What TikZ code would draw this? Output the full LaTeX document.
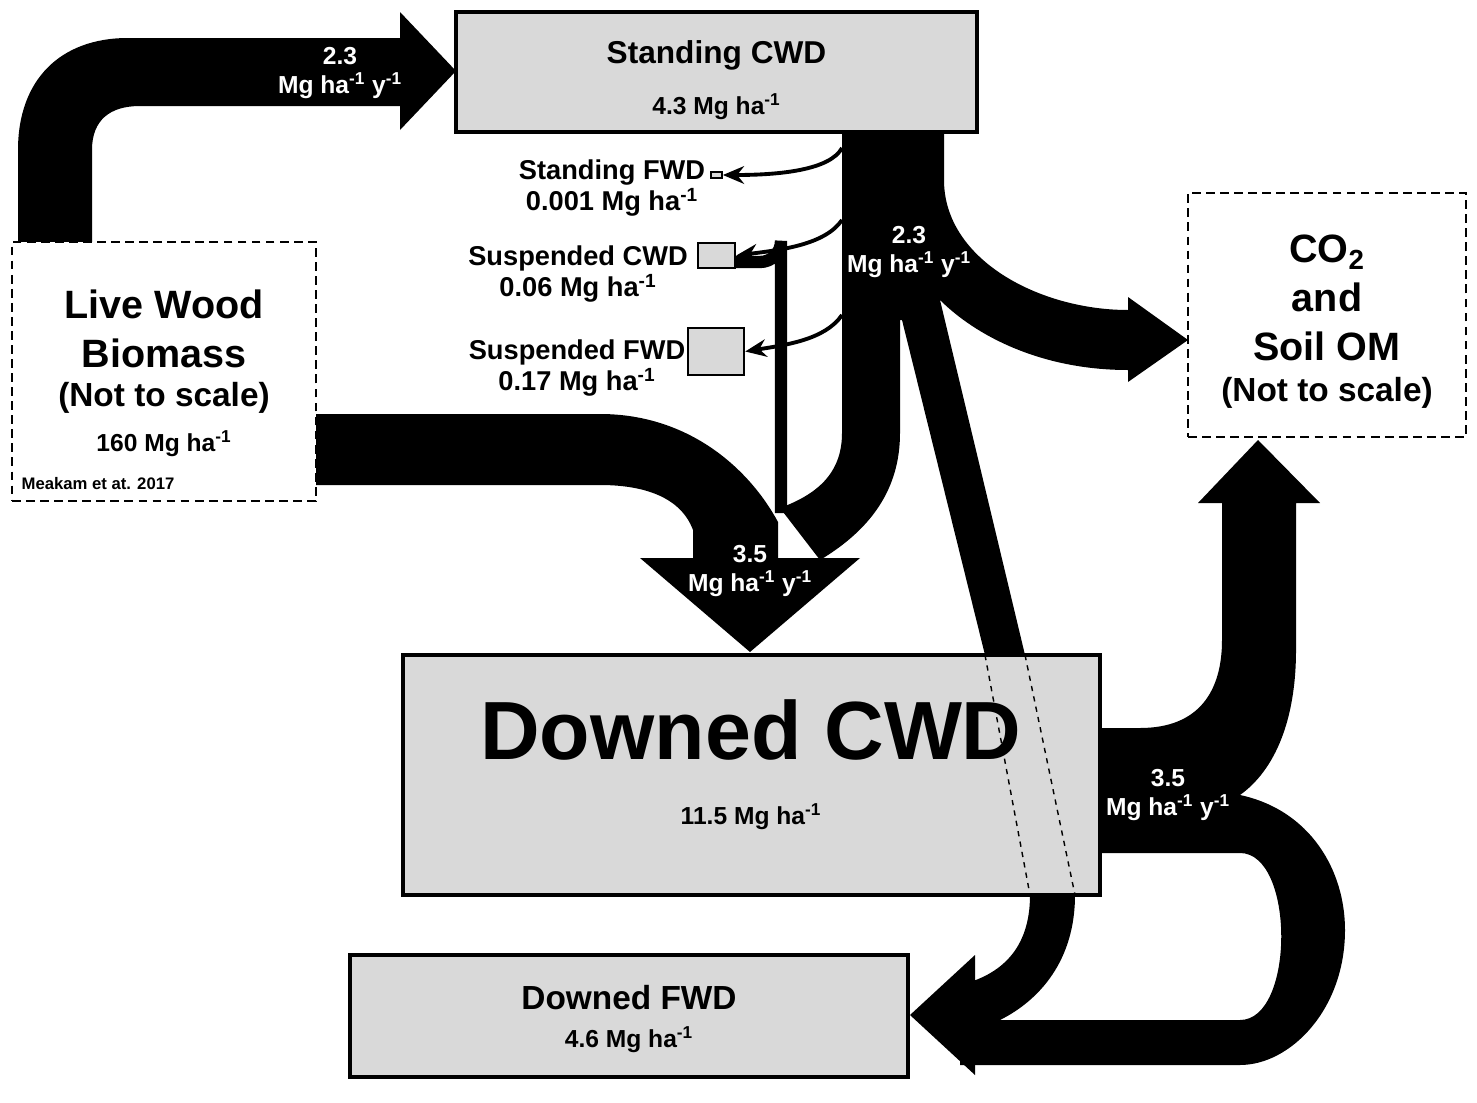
\documentclass[tikz,border=0pt]{standalone}
\usepackage{fontspec}
\setmainfont{Liberation Sans}
\usepackage{tikz}
\usetikzlibrary{arrows.meta}
\newcommand{\perha}{Mg ha\textsuperscript{-1}}
\newcommand{\peryr}{Mg ha\textsuperscript{-1} y\textsuperscript{-1}}
\tikzset{
  pool/.style={draw=black, line width=2pt, fill=black!15},
  ext/.style={draw=black, line width=1.6pt, dash pattern=on 5pt off 3pt, fill=white},
  flow/.style={fill=black, draw=none},
  lbl/.style={font=\bfseries\fontsize{14}{17}\selectfont, align=center},
  wlbl/.style={text=white, font=\bfseries\fontsize{14}{17}\selectfont, align=center},
  thin/.style={line width=2.2pt, -{Stealth[length=12pt,width=10pt]}}
}
\begin{document}
\begin{tikzpicture}[x=0.02cm, y=-0.02cm]
\useasboundingbox (0,0) rectangle (1477,1102);
%%%%% Flows %%%%%
\fill[flow] (18,242) -- (18,150) .. controls (18,80) and (60,38) .. (128,38) -- (400,38) -- (400,12) -- (456,71) -- (400,130) -- (400,106) -- (140,106) .. controls (110,106) and (92,120) .. (92,150) -- (92,242) -- cycle;
\fill[flow] (316,414) -- (600,414) .. controls (690,414) and (750,470) .. (778,522) -- (778,560) -- (693,560) -- (693,530) .. controls (680,495) and (640,485) .. (600,485) -- (316,485) -- cycle;
\fill[flow] (842,132) -- (842,433) .. controls (842,475) and (815,495) .. (780,508) -- (820,560) .. controls (870,530) and (900,490) .. (900,433) -- (900,132) -- cycle;
\fill[flow] (640,558) -- (860,558) -- (750,652) -- cycle;
\fill[flow] (898,132) -- (944,132) -- (944,180) .. controls (944,260) and (1040,310) .. (1128,310) -- (1128,297) -- (1188,340) -- (1128,382) -- (1128,370) .. controls (1040,370) and (975,335) .. (940,300) -- (1025,655) -- (985,655) -- (902,320) -- (898,320) -- cycle;
\fill[flow] (1100,728) -- (1140,728) .. controls (1200,728) and (1222,690) .. (1222,640) -- (1222,503) -- (1198,503) -- (1258,440) -- (1320,503) -- (1296,503) -- (1296,650) .. controls (1296,720) and (1275,770) .. (1240,795) .. controls (1310,810) and (1345,870) .. (1345,930) .. controls (1345,1010) and (1290,1065) .. (1240,1065) -- (960,1065) -- (960,1020) -- (1240,1020) .. controls (1295,1020) and (1295,853) .. (1240,853) -- (1100,853) -- cycle;
\fill[flow] (1030,895) .. controls (1030,950) and (1000,975) .. (960,985) -- (960,1030) -- (1000,1020) .. controls (1040,1000) and (1075,960) .. (1075,895) -- cycle;
\fill[flow] (975,955) -- (910,1015) -- (975,1075) -- cycle;
%%%%% Pools %%%%%
\node[pool, minimum width=10.42cm, minimum height=2.4cm] (scwd) at (716.5,72) {};
\node[ext, minimum width=6.08cm, minimum height=5.18cm] (live) at (164,371.5) {};
\node[ext, minimum width=5.56cm, minimum height=4.88cm] (co2) at (1327,315) {};
\node[pool, minimum width=13.94cm, minimum height=4.8cm] (dcwd) at (751.5,775) {};
\node[pool, minimum width=11.16cm, minimum height=2.44cm] (dfwd) at (629,1016) {};
\node[pool, line width=1pt, minimum width=0.22cm, minimum height=0.12cm, inner sep=0pt] (sfwd) at (716.5,175) {};
\node[pool, line width=1.4pt, minimum width=0.74cm, minimum height=0.5cm, inner sep=0pt] (suscwd) at (716.5,255.5) {};
\node[pool, line width=1.4pt, minimum width=1.12cm, minimum height=0.94cm, inner sep=0pt] (susfwd) at (716,351.5) {};
%%%%% Small flows %%%%%
\coordinate (s1) at (842,148);
\coordinate (s2) at (842,220);
\coordinate (s3) at (842,315);
\coordinate (m1) at (781,513);
\draw[thin] (s1) .. controls (830,170) and (780,175) .. (sfwd.east);
\draw[thin] (s2) .. controls (825,245) and (780,250) .. (suscwd.east);
\draw[thin] (s3) .. controls (825,340) and (785,345) .. (susfwd.east);
\draw[line width=7pt] (suscwd.east |- 0,262) -- (760,262) arc[start angle=90, end angle=0, radius=21] -- (m1);
%%%%% Hidden flow through Downed CWD %%%%%
\draw[dashed, line width=0.8pt] (985,655) -- (1030,895);
\draw[dashed, line width=0.8pt] (1025,655) -- (1075,895);
%%%%% Labels %%%%%
\node[font=\bfseries\fontsize{18}{21}\selectfont] at (scwd.center |- 0,55) {Standing CWD};
\node[lbl] at (scwd.center |- 0,107) {4.3 \perha};
\node[font=\bfseries\fontsize{22.5}{28}\selectfont, align=center] at (164,329) {Live Wood\\Biomass};
\node[font=\bfseries\fontsize{19}{22}\selectfont] at (164,398) {(Not to scale)};
\node[lbl] at (164,444) {160 \perha};
\node[font=\bfseries\fontsize{9.5}{11}\selectfont] at (98,484) {Meakam et at. 2017};
\node[font=\bfseries\fontsize{22.5}{28}\selectfont, align=center] at (1327,298) {CO\textsubscript{2}\\and\\Soil OM};
\node[font=\bfseries\fontsize{19}{22}\selectfont] at (1327,393) {(Not to scale)};
\node[font=\bfseries\fontsize{47}{50}\selectfont] at (751,730) {Downed CWD};
\node[lbl] at (751,817) {11.5 \perha};
\node[font=\bfseries\fontsize{19}{22}\selectfont] at (629,998) {Downed FWD};
\node[lbl] at (629,1040) {4.6 \perha};
\node[font=\bfseries\fontsize{15.5}{18}\selectfont, align=center] at (612,188) {Standing FWD\\0.001 \perha};
\node[font=\bfseries\fontsize{15.5}{18}\selectfont, align=center] at (578,274) {Suspended CWD\\0.06 \perha};
\node[font=\bfseries\fontsize{15.5}{18}\selectfont, align=center] at (577,368) {Suspended FWD\\0.17 \perha};
\node[wlbl] at (340,73) {2.3\\\peryr};
\node[wlbl] at (909,252) {2.3\\\peryr};
\node[wlbl] at (750,571) {3.5\\\peryr};
\node[wlbl] at (1168,795) {3.5\\\peryr};
\end{tikzpicture}
\end{document}
